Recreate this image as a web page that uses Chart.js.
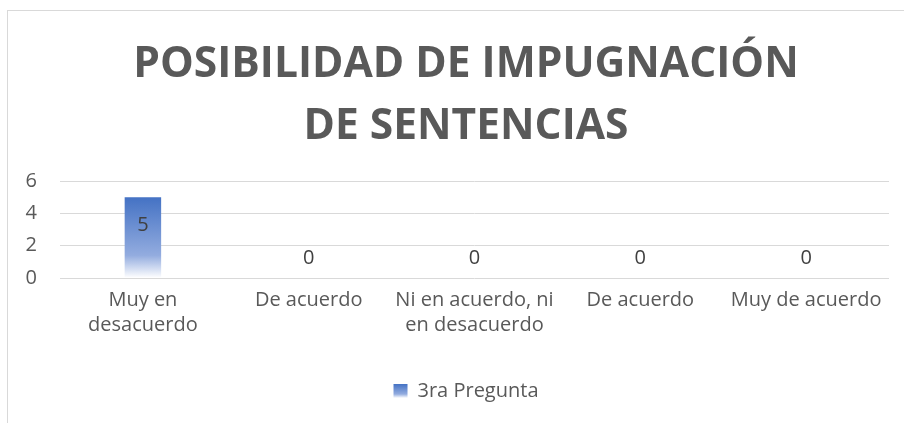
<!DOCTYPE html>
<html>
<head>
<meta charset="utf-8">
<script src="https://cdn.jsdelivr.net/npm/chart.js@4.4.1/dist/chart.umd.min.js"></script>
<style>
  html, body { margin: 0; padding: 0; background: #fff; overflow: hidden; }
  #frame {
    position: absolute; left: 7px; top: 10px;
    width: 918px; height: 440px;
    border: 1px solid #d9d9d9; box-sizing: border-box;
  }
  #wrap { position: absolute; left: 0; top: 0; width: 916px; height: 438px; }
</style>
</head>
<body>
<div id="frame"><div id="wrap"><canvas id="chart"></canvas></div></div>
<script>
// data
const categories = [
  ["Muy en", "desacuerdo"],
  "De acuerdo",
  ["Ni en acuerdo, ni", "en desacuerdo"],
  "De acuerdo",
  "Muy de acuerdo"
];
const seriesName = "3ra Pregunta";
const values = [5, 0, 0, 0, 0];
const yTicks = [0, 2, 4, 6];

const FONT = "'Open Sans', sans-serif";
const GRAY = "#595959";

// vertical gradient like the office bar fill
function barGradient(ctx, top, bottom) {
  const g = ctx.createLinearGradient(0, top, 0, bottom);
  g.addColorStop(0, "#4472c4");
  g.addColorStop(0.72, "#93acdf");
  g.addColorStop(1, "#ffffff");
  return g;
}

/* -------------------------------
   VALUE LABELS
--------------------------------*/
const valueLabels = {
  id: "valueLabels",
  afterDatasetsDraw(chart) {
    const ctx = chart.ctx;
    const meta = chart.getDatasetMeta(0);
    ctx.save();
    ctx.font = "20px " + FONT;
    ctx.fillStyle = "#404040";
    ctx.textAlign = "center";
    ctx.textBaseline = "middle";
    meta.data.forEach((bar, i) => {
      const v = values[i];
      const y = v > 0 ? bar.y + 28 : bar.base - 20;
      ctx.fillText(String(v), bar.x, y);
    });
    ctx.restore();
  }
};

// repaint legend swatch with the gradient
const legendSwatch = {
  id: "legendSwatch",
  afterDraw(chart) {
    const lg = chart.legend;
    if (!lg || !lg.legendHitBoxes || !lg.legendHitBoxes.length) return;
    const hb = lg.legendHitBoxes[0];
    const ctx = chart.ctx;
    const s = 14;
    const y = hb.top + (hb.height - s) / 2;
    ctx.save();
    ctx.fillStyle = "#fff";
    ctx.fillRect(hb.left - 1, hb.top, s + 2, hb.height);
    ctx.fillStyle = barGradient(ctx, y, y + s);
    ctx.fillRect(hb.left, y, s, s);
    ctx.restore();
  }
};

const ctx = document.getElementById("chart");

new Chart(ctx, {
  type: "bar",
  data: {
    labels: categories,
    datasets: [{
      label: seriesName,
      data: values,
      backgroundColor: (c) => {
        const chart = c.chart;
        const y = chart.scales && chart.scales.y;
        if (!y || c.dataIndex === undefined) return "#4472c4";
        const top = y.getPixelForValue(c.raw || 0);
        const bottom = y.getPixelForValue(0);
        if (!isFinite(top) || !isFinite(bottom) || bottom - top < 1) return "#4472c4";
        return barGradient(chart.ctx, top, bottom);
      },
      borderWidth: 0,
      categoryPercentage: 1,
      barPercentage: 0.22
    }]
  },
  options: {
    responsive: true,
    maintainAspectRatio: false,
    animation: false,
    layout: { padding: { left: 0, right: 0, top: 0, bottom: 38 } },
    plugins: {
      title: {
        display: true,
        text: ["POSIBILIDAD DE IMPUGNACIÓN", "DE SENTENCIAS"],
        color: GRAY,
        font: { family: FONT, size: 42.5, weight: "bold", lineHeight: 1.46 },
        padding: { top: 22.5, bottom: 23.5 }
      },
      legend: {
        display: true,
        position: "bottom",
        labels: {
          color: GRAY,
          font: { family: FONT, size: 20 },
          boxWidth: 14,
          boxHeight: 14,
          padding: 10
        }
      },
      tooltip: { enabled: false }
    },
    scales: {
      x: {
        afterFit: (s) => { s.height = 93; },
        grid: { display: false, drawTicks: false },
        border: { display: false },
        ticks: {
          color: GRAY,
          font: { family: FONT, size: 20, lineHeight: 1.25 },
          maxRotation: 0,
          autoSkip: false,
          padding: 10
        }
      },
      y: {
        min: 0,
        max: 6,
        afterFit: (s) => { s.width = 52; },
        afterBuildTicks: (s) => { s.ticks = yTicks.map(v => ({ value: v })); },
        grid: { color: "#d9d9d9", drawTicks: false },
        border: { display: false },
        ticks: {
          color: GRAY,
          font: { family: FONT, size: 20 },
          padding: 23
        }
      },
      // empty right-hand gutter so the plot ends where the original does
      gutter: {
        position: "right",
        display: true,
        afterFit: (s) => { s.width = 35; },
        grid: { display: false, drawTicks: false },
        border: { display: false },
        ticks: { display: false }
      }
    }
  },
  plugins: [valueLabels, legendSwatch]
});
</script>
</body>
</html>
